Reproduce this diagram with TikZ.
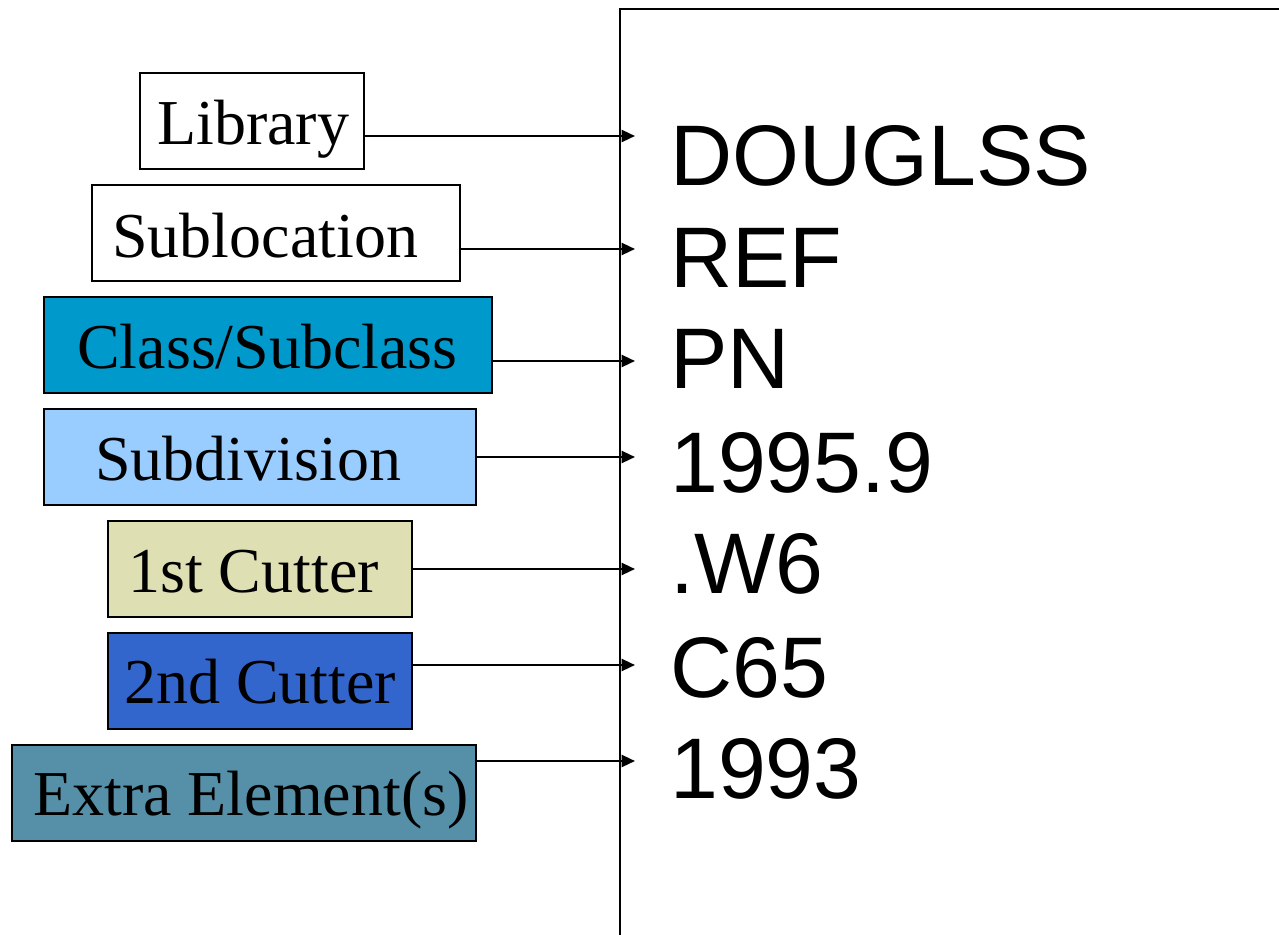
\documentclass[tikz,border=0pt]{standalone}
\usepackage{fontspec}
\setmainfont{Liberation Serif}
\newfontfamily\arialfont{Liberation Sans}
\usetikzlibrary{arrows.meta}
\definecolor{cClass}{HTML}{0099CC}
\definecolor{cSubdiv}{HTML}{99CCFF}
\definecolor{cFirst}{HTML}{DFDFB4}
\definecolor{cSecond}{HTML}{3366CC}
\definecolor{cExtra}{HTML}{5590A8}
\tikzset{
  box/.style={draw=black, line width=2.2pt, rectangle, inner sep=0pt},
  lbl/.style={anchor=base west, inner sep=0pt, font=\fontsize{48}{50}\selectfont},
  val/.style={anchor=base west, inner sep=0pt, font=\arialfont\fontsize{64.5}{70}\selectfont},
  arr/.style={line width=1.7pt, -{Triangle[length=10pt,width=9pt]}},
  frame/.style={line width=1.9pt}
}
\begin{document}
\begin{tikzpicture}[x=0.75pt,y=-0.75pt]
\useasboundingbox (0,0) rectangle (1279,935);
\fill[white] (0,0) rectangle (1279,935);
% frame
\coordinate (fb) at (620,945);
\coordinate (ft) at (620,9);
\coordinate (fr) at (1290,9);
\draw[frame] (fb) -- (ft) -- (fr);
% boxes
\node[box, fill=white, minimum width=224*0.75pt, minimum height=96*0.75pt] (lib) at (252,121) {};
\node[box, fill=white, minimum width=368*0.75pt, minimum height=96*0.75pt] (subl) at (276,233) {};
\node[box, fill=cClass, minimum width=448*0.75pt, minimum height=96*0.75pt] (cls) at (268,345) {};
\node[box, fill=cSubdiv, minimum width=432*0.75pt, minimum height=96*0.75pt] (sdv) at (260,457) {};
\node[box, fill=cFirst, minimum width=304*0.75pt, minimum height=96*0.75pt] (c1) at (260,569) {};
\node[box, fill=cSecond, minimum width=304*0.75pt, minimum height=96*0.75pt] (c2) at (260,681) {};
\node[box, fill=cExtra, minimum width=464*0.75pt, minimum height=96*0.75pt] (ext) at (244,793) {};
% labels
\node[lbl] (tlib) at (157,144) {Library};
\node[lbl] (tsubl) at (112,257) {Sublocation};
\node[lbl] (tcls) at (77,368) {Class/Subclass};
\node[lbl] (tsdv) at (95,480) {Subdivision};
\node[lbl] (tc1) at (128,592) {1st Cutter};
\node[lbl] (tc2) at (124,703) {2nd Cutter};
\node[lbl] (text) at (33,815) {Extra Element(s)};
% values
\node[val] (v1) at (670,185) {DOUGLSS};
\node[val] (v2) at (670,287) {REF};
\node[val] (v3) at (670,388) {PN};
\node[val] (v4) at (670,492) {1995.9};
\node[val] (v5) at (670,593) {.W6};
\node[val] (v6) at (670,697) {C65};
\node[val] (v7) at (670,798) {1993};
% arrow targets
\coordinate (t1) at (635,136);
\coordinate (t2) at (635,249);
\coordinate (t3) at (635,361);
\coordinate (t4) at (635,457);
\coordinate (t5) at (635,569);
\coordinate (t6) at (635,665);
\coordinate (t7) at (635,761);
\draw[arr] (lib.east |- t1) -- (t1);
\draw[arr] (subl.east |- t2) -- (t2);
\draw[arr] (cls.east |- t3) -- (t3);
\draw[arr] (sdv.east |- t4) -- (t4);
\draw[arr] (c1.east |- t5) -- (t5);
\draw[arr] (c2.east |- t6) -- (t6);
\draw[arr] (ext.east |- t7) -- (t7);
\end{tikzpicture}
\end{document}
